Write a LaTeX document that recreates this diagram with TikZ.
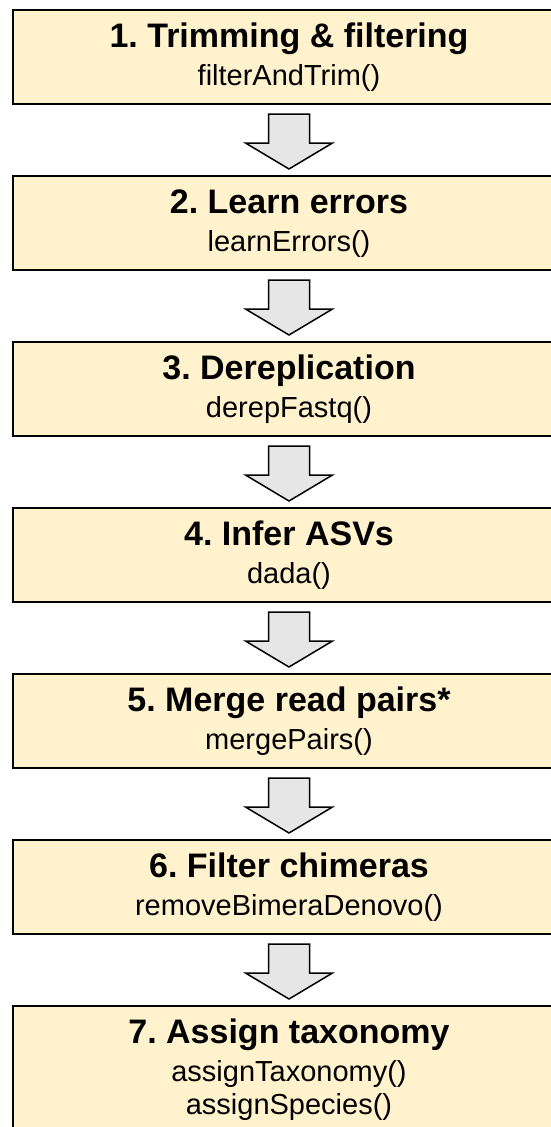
\documentclass[tikz,border=0pt]{standalone}
\usepackage{fontspec}
\setmainfont{Liberation Sans}
\usetikzlibrary{calc}
\definecolor{boxfill}{HTML}{FFF2CC}
\definecolor{arrowfill}{HTML}{E6E6E6}
\frenchspacing

\begin{document}
\begin{tikzpicture}[x=1pt,y=1pt,
    stepbox/.style={draw=black, line width=2pt, fill=boxfill, anchor=north west,
      minimum width=552pt, minimum height=94pt, inner sep=0pt},
    headtext/.style={anchor=base, inner sep=0pt, font=\fontsize{34}{40}\selectfont\bfseries},
    calltext/.style={anchor=base, inner sep=0pt, font=\fontsize{29}{34}\selectfont},
    flowarrow/.style={draw=black, line width=1.5pt, fill=arrowfill, line join=miter}]
  \useasboundingbox (0,0) rectangle (551,-1127);
  \clip (0,0) rectangle (551,-1127);
  % the six regular steps
  \foreach \i/\head/\call in {1/{1. Trimming \& filtering}/filterAndTrim(),
      2/{2. Learn errors}/learnErrors(), 3/{3. Dereplication}/derepFastq(),
      4/{4. Infer ASVs}/dada(), 5/{5. Merge read pairs*}/mergePairs(),
      6/{6. Filter chimeras}/removeBimeraDenovo()} {
    \node[stepbox] (s\i) at (12,{-9-166*(\i-1)}) {};
    \node[headtext] (h\i) at ($(s\i.north)+(0,-38)$) {\head};
    \node[calltext] (c\i) at ($(s\i.north)+(0,-76)$) {\call};
  }
  % last step, taller box
  \node[stepbox, minimum height=140pt] (s7) at (12,-1005) {};
  \node[headtext] (h7) at ($(s7.north)+(0,-38)$) {7. Assign taxonomy};
  \node[calltext] (c7a) at ($(s7.north)+(0,-76)$) {assignTaxonomy()};
  \node[calltext] (c7b) at ($(s7.north)+(0,-109)$) {assignSpecies()};
  % block arrows between the steps
  \foreach \i [count=\j from 2] in {1,...,6}
    \draw[flowarrow] ($(s\i.south)+(-20.5,-9)$) -- ++(0,-29) -- ++(-23,0)
      -- ($(s\j.north)+(0,6)$) -- ($(s\i.south)+(43.5,-38)$)
      -- ++(-23,0) -- ++(0,29) -- cycle;
\end{tikzpicture}
\end{document}
